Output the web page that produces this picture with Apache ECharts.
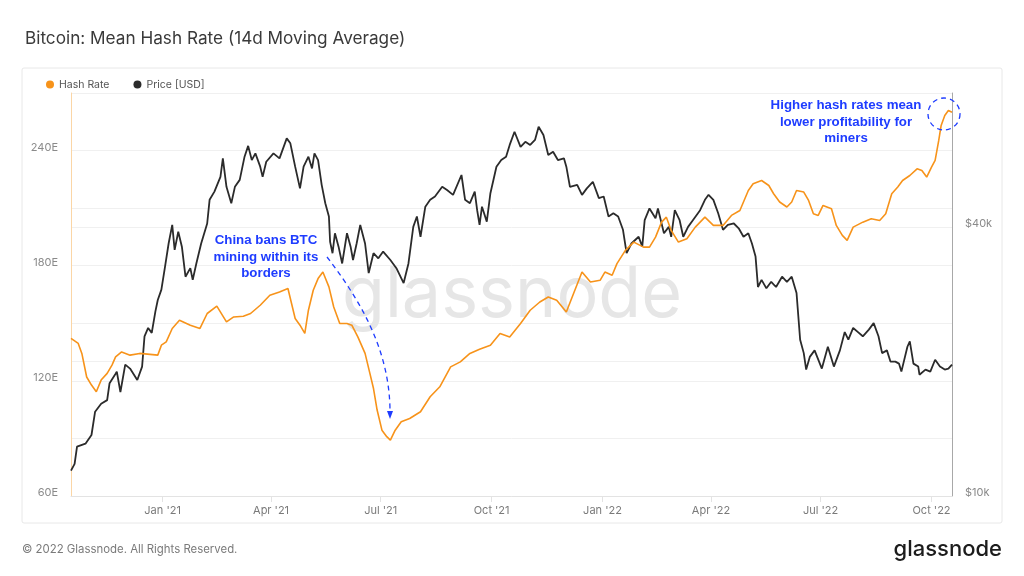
<!DOCTYPE html>
<html>
<head>
<meta charset="utf-8">
<script src="https://cdn.jsdelivr.net/npm/echarts@6/dist/echarts.min.js"></script>
<style>
html,body{margin:0;padding:0;background:#fff;}
#c{width:1024px;height:576px;}
</style>
</head>
<body>
<div id="c"></div>
<script>
// ---- data ----
const START_DATE = '2020-10-17';
const END_DATE = '2022-10-18';
const quarterStarts = ['01-01', '04-01', '07-01', '10-01'];
const monthNames = ['Jan','Feb','Mar','Apr','May','Jun','Jul','Aug','Sep','Oct','Nov','Dec'];
const hashLabelTicks = [60, 120, 180, 240];      // EH/s labels shown
const priceLabelTicks = [10000, 40000];          // USD labels shown

const hashDates = [
'2020-10-17','2020-10-23','2020-10-26','2020-10-30','2020-11-03','2020-11-07','2020-11-11','2020-11-16','2020-11-20','2020-11-23','2020-11-28',
'2020-12-05','2020-12-13','2020-12-28','2020-12-31','2021-01-04','2021-01-09','2021-01-15','2021-01-24','2021-02-01','2021-02-07','2021-02-15',
'2021-02-23','2021-03-01','2021-03-09','2021-03-15','2021-03-23','2021-03-31','2021-04-08','2021-04-15','2021-04-18','2021-04-21','2021-04-25',
'2021-04-29','2021-05-02','2021-05-06','2021-05-10','2021-05-14','2021-05-19','2021-05-23','2021-05-28','2021-06-03','2021-06-07','2021-06-12',
'2021-06-18','2021-06-22','2021-06-25','2021-06-28','2021-07-02','2021-07-06','2021-07-09','2021-07-13','2021-07-18','2021-07-25','2021-08-03',
'2021-08-11','2021-08-19','2021-08-28','2021-09-05','2021-09-13','2021-09-21','2021-09-30','2021-10-08','2021-10-16','2021-10-25','2021-11-02',
'2021-11-10','2021-11-17','2021-11-24','2021-12-02','2021-12-08','2021-12-15','2021-12-22','2021-12-30','2022-01-03','2022-01-09','2022-01-13',
'2022-01-20','2022-01-27','2022-02-04','2022-02-09','2022-02-14','2022-02-19','2022-02-23','2022-02-27','2022-03-05','2022-03-12','2022-03-19',
'2022-03-27','2022-04-03','2022-04-11','2022-04-18','2022-04-25','2022-05-02','2022-05-06','2022-05-13','2022-05-19','2022-05-23','2022-05-28',
'2022-06-03','2022-06-07','2022-06-11','2022-06-17','2022-06-21','2022-06-25','2022-06-29','2022-07-03','2022-07-10','2022-07-14','2022-07-19',
'2022-07-23','2022-07-28','2022-08-05','2022-08-12','2022-08-19','2022-08-24','2022-08-29','2022-09-03','2022-09-07','2022-09-13','2022-09-19',
'2022-09-23','2022-09-27','2022-10-01','2022-10-04','2022-10-07','2022-10-09','2022-10-12','2022-10-15','2022-10-18'
];
const hashValues = [
142.1,139.5,134.3,122.0,117.8,114.3,120.4,123.9,128.2,132.5,135.1,
133.4,134.3,133.4,138.6,140.3,147.3,151.6,149.0,147.3,155.1,158.9,
150.7,153.3,153.7,155.1,159.4,164.6,166.3,168.1,160.3,152.5,149.0,
144.7,156.8,167.2,173.3,176.7,169.0,158.5,149.9,149.9,149.0,142.9,
134.3,123.9,116.0,104.8,94.3,90.9,89.1,94.3,98.7,100.4,103.9,
111.7,116.9,127.3,129.9,134.3,136.5,138.6,144.7,142.9,149.9,156.8,
161.1,163.7,162.0,155.9,165.5,176.7,171.5,172.4,176.7,175.0,181.1,
188.0,192.3,189.7,189.7,194.9,202.7,205.3,198.4,192.3,194.1,200.1,
205.3,201.0,201.0,206.2,208.8,219.2,222.7,224.4,221.8,217.5,213.2,
210.6,213.2,219.2,218.4,214.0,207.1,206.2,211.4,209.7,201.0,195.8,
193.2,200.1,202.7,204.5,203.6,207.1,217.5,221.0,224.4,227.0,230.5,
229.6,226.2,231.4,234.9,245.3,253.1,258.3,260.9,260.0
];

const priceDates = [
'2020-10-17','2020-10-20','2020-10-22','2020-10-29','2020-11-03','2020-11-06','2020-11-11','2020-11-16','2020-11-18','2020-11-23','2020-11-24',
'2020-11-27','2020-12-01','2020-12-05','2020-12-11','2020-12-15','2020-12-17','2020-12-20','2020-12-23','2020-12-26','2020-12-28','2020-12-31',
'2021-01-03','2021-01-06','2021-01-09','2021-01-11','2021-01-14','2021-01-17','2021-01-20','2021-01-24','2021-01-26','2021-01-29','2021-02-02',
'2021-02-07','2021-02-09','2021-02-13','2021-02-18','2021-02-20','2021-02-23','2021-02-27','2021-03-02','2021-03-06','2021-03-10','2021-03-13',
'2021-03-16','2021-03-19','2021-03-23','2021-03-25','2021-03-28','2021-04-03','2021-04-08','2021-04-14','2021-04-17','2021-04-21','2021-04-25',
'2021-04-28','2021-05-02','2021-05-05','2021-05-07','2021-05-10','2021-05-13','2021-05-16','2021-05-19','2021-05-20','2021-05-22','2021-05-24',
'2021-05-27','2021-05-30','2021-06-03','2021-06-06','2021-06-08','2021-06-11','2021-06-14','2021-06-18','2021-06-21','2021-06-25','2021-06-29',
'2021-07-03','2021-07-09','2021-07-14','2021-07-20','2021-07-24','2021-07-28','2021-07-31','2021-08-03','2021-08-07','2021-08-11','2021-08-15',
'2021-08-21','2021-08-25','2021-08-30','2021-09-06','2021-09-09','2021-09-13','2021-09-17','2021-09-19','2021-09-21','2021-09-23','2021-09-27',
'2021-09-30','2021-10-05','2021-10-09','2021-10-13','2021-10-16','2021-10-20','2021-10-25','2021-10-29','2021-11-02','2021-11-06','2021-11-09',
'2021-11-13','2021-11-17','2021-11-21','2021-11-25','2021-11-30','2021-12-02','2021-12-05','2021-12-11','2021-12-15','2021-12-19','2021-12-24',
'2021-12-29','2022-01-02','2022-01-06','2022-01-10','2022-01-14','2022-01-18','2022-01-21','2022-01-25','2022-01-31','2022-02-03','2022-02-05',
'2022-02-09','2022-02-14','2022-02-16','2022-02-21','2022-02-25','2022-02-27','2022-03-02','2022-03-06','2022-03-09','2022-03-13','2022-03-17',
'2022-03-23','2022-03-27','2022-03-30','2022-04-03','2022-04-07','2022-04-11','2022-04-15','2022-04-20','2022-04-24','2022-04-28','2022-05-02',
'2022-05-05','2022-05-08','2022-05-10','2022-05-13','2022-05-17','2022-05-21','2022-05-25','2022-05-30','2022-06-03','2022-06-07','2022-06-11',
'2022-06-14','2022-06-17','2022-06-19','2022-06-22','2022-06-26','2022-07-02','2022-07-07','2022-07-12','2022-07-17','2022-07-21','2022-07-24',
'2022-07-28','2022-08-01','2022-08-05','2022-08-10','2022-08-14','2022-08-18','2022-08-21','2022-08-25','2022-08-28','2022-09-01','2022-09-04',
'2022-09-06','2022-09-11','2022-09-13','2022-09-16','2022-09-20','2022-09-21','2022-09-26','2022-09-30','2022-10-04','2022-10-08','2022-10-12',
'2022-10-15','2022-10-18'
];
const priceValues = [
11400,11800,12900,13100,13700,15450,16100,16400,17900,18800,19000,
17100,19700,19300,18200,19500,22800,23800,23200,25900,27500,29000,
32600,36800,40500,35600,39100,36200,31000,32400,30500,33200,36800,
40800,46100,48100,51900,57100,49300,45300,49300,51100,57600,60900,
56600,58600,54700,51900,56100,58600,57100,63300,61700,54700,48900,
54700,57600,54200,58600,56600,49800,45300,42300,37100,35000,38800,
36200,33200,38800,36200,33800,36800,40500,36800,31600,35000,34100,
35300,33800,32400,30000,33200,40100,42300,38100,44500,46100,46900,
49300,48500,47300,52400,46100,45300,48100,43700,40500,44500,41200,
47700,54700,56600,57600,61200,65500,60600,62200,61200,62800,67200,
64400,58100,59100,56600,57100,54700,49300,49800,47300,48900,50600,
46500,46900,42300,43000,42300,39500,35000,36800,38100,36200,41500,
44100,41900,44100,38800,40100,38100,43700,41500,38100,40100,41500,
43700,46100,47300,46100,43000,39500,40500,40800,39800,38100,38800,
36800,34400,29400,30500,29200,30200,29400,31000,30200,31000,28500,
22400,20900,19200,20500,21200,19300,21600,19500,21200,23300,22400,
23800,23300,22800,23600,24400,22800,20900,21200,20000,20000,19800,
19000,21600,22200,19800,19500,18700,19200,19000,20200,19500,19200,
19300,19700
];

// ---- categories (every day of the window) ----
const days = [];
for (let t = Date.parse(START_DATE + 'T00:00:00Z'); t <= Date.parse(END_DATE + 'T00:00:00Z'); t += 86400000) {
  days.push(new Date(t).toISOString().slice(0, 10));
}
const isQuarterStart = (v) => quarterStarts.indexOf(v.slice(5)) >= 0;
const fmtMonth = (v) => monthNames[parseInt(v.slice(5, 7), 10) - 1] + " '" + v.slice(2, 4);

const ORANGE = '#f7931a';
const BLUE = '#1e3cff';
const FONT = 'Inter, "Noto Sans", sans-serif';

const chart = echarts.init(document.getElementById('c'), null, {renderer: 'canvas'});
chart.setOption({
  animation: false,
  backgroundColor: '#ffffff',
  textStyle: {fontFamily: FONT},
  title: {
    text: 'Bitcoin: Mean Hash Rate (14d Moving Average)',
    left: 20, top: 25,
    textStyle: {fontSize: 17.2, fontWeight: 'normal', color: '#3a3a3a', fontFamily: FONT}
  },
  legend: {
    left: 41, top: 74,
    icon: 'circle', itemWidth: 8, itemHeight: 8, itemGap: 24,
    textStyle: {fontSize: 10.5, color: '#555', fontFamily: FONT},
    data: ['Hash Rate', 'Price [USD]']
  },
  grid: {left: 71, right: 72, top: 93, bottom: 80, containLabel: false, outerBoundsMode: 'none'},
  xAxis: {
    type: 'category',
    data: days,
    boundaryGap: false,
    axisLine: {show: true, lineStyle: {color: '#e3e3e3', width: 1}},
    axisTick: {show: true, length: 6, interval: (i, v) => isQuarterStart(v), lineStyle: {color: '#e3e3e3'}},
    axisLabel: {
      interval: (i, v) => isQuarterStart(v),
      formatter: fmtMonth,
      color: '#7a7a7a', fontSize: 11, margin: 9, fontFamily: FONT
    },
    splitLine: {show: false}
  },
  yAxis: [
    {
      type: 'value', position: 'left',
      min: 60, max: 270, interval: 30,
      axisLine: {show: true, lineStyle: {color: '#fbd6a6', width: 1}},
      axisTick: {show: false},
      axisLabel: {
        formatter: (v) => hashLabelTicks.indexOf(Math.round(v)) >= 0 ? Math.round(v) + 'E' : '',
        color: '#8a8a8a', fontSize: 11, margin: 13, verticalAlign: 'bottom', lineHeight: 6, fontFamily: FONT
      },
      splitLine: {show: true, lineStyle: {color: '#f0f0f0', width: 1}}
    },
    {
      type: 'log', logBase: 2, position: 'right',
      min: 10000, max: 80000, interval: 1,
      axisLine: {show: true, lineStyle: {color: '#a8a8a8', width: 1}},
      axisTick: {show: false},
      axisLabel: {
        formatter: (v) => {
          const r = Math.round(v / 1000) * 1000;
          return priceLabelTicks.indexOf(r) >= 0 ? '$' + (r / 1000) + 'k' : '';
        },
        color: '#8a8a8a', fontSize: 11, margin: 13, verticalAlign: 'bottom', lineHeight: 6, fontFamily: FONT
      },
      splitLine: {show: true, lineStyle: {color: '#f0f0f0', width: 1}}
    }
  ],
  series: [
    {
      name: 'Hash Rate', type: 'line', yAxisIndex: 0,
      data: hashDates.map((d, i) => [d, hashValues[i]]),
      showSymbol: false, symbol: 'circle',
      itemStyle: {color: ORANGE},
      lineStyle: {color: ORANGE, width: 1.6},
      z: 4
    },
    {
      name: 'Price [USD]', type: 'line', yAxisIndex: 1,
      data: priceDates.map((d, i) => [d, priceValues[i]]),
      showSymbol: false, symbol: 'circle',
      itemStyle: {color: '#2b2b2b'},
      lineStyle: {color: '#2b2b2b', width: 1.8},
      z: 3
    }
  ],
  graphic: [
    {type: 'rect', z: -10, silent: true, shape: {x: 22, y: 68, width: 980, height: 455, r: 2},
     style: {fill: 'none', stroke: '#e8e8e8', lineWidth: 1}},
    {type: 'text', z: 1, silent: true, x: 512, y: 296,
     style: {text: 'glassnode', fontSize: 70, fontFamily: FONT, fill: '#e6e6e6', align: 'center', verticalAlign: 'middle'}},
    {type: 'text', z: 10, silent: true, x: 266, y: 257,
     style: {text: 'China bans BTC\nmining within its\nborders', fontSize: 13.3, fontWeight: 'bold',
             fontFamily: 'Liberation Sans, Arial, sans-serif', fill: BLUE, align: 'center', verticalAlign: 'middle', lineHeight: 16.5}},
    {type: 'bezierCurve', z: 10, silent: true,
     shape: {x1: 327, y1: 257, cpx1: 360, cpy1: 300, cpx2: 390, cpy2: 350, x2: 390, y2: 412},
     style: {stroke: BLUE, lineWidth: 1.3, lineDash: [5, 4], fill: 'none'}},
    {type: 'polygon', z: 10, silent: true, shape: {points: [[387, 411], [393, 411], [390, 419]]},
     style: {fill: BLUE}},
    {type: 'text', z: 10, silent: true, x: 846, y: 122,
     style: {text: 'Higher hash rates mean\nlower profitability for\nminers', fontSize: 13.3, fontWeight: 'bold',
             fontFamily: 'Liberation Sans, Arial, sans-serif', fill: BLUE, align: 'center', verticalAlign: 'middle', lineHeight: 16.5}},
    {type: 'circle', z: 10, silent: true, shape: {cx: 944, cy: 114, r: 16},
     style: {fill: 'none', stroke: BLUE, lineWidth: 1.3, lineDash: [5, 4]}},
    {type: 'text', silent: true, x: 22, y: 550,
     style: {text: '\u00A9 2022 Glassnode. All Rights Reserved.', fontSize: 11.4, fontFamily: FONT, fill: '#7a7a7a', align: 'left', verticalAlign: 'middle'}},
    {type: 'text', silent: true, x: 1002, y: 549,
     style: {text: 'glassnode', fontSize: 22, fontWeight: 500, fontFamily: FONT, fill: '#1c1c1c', align: 'right', verticalAlign: 'middle'}}
  ]
});
</script>
</body>
</html>
